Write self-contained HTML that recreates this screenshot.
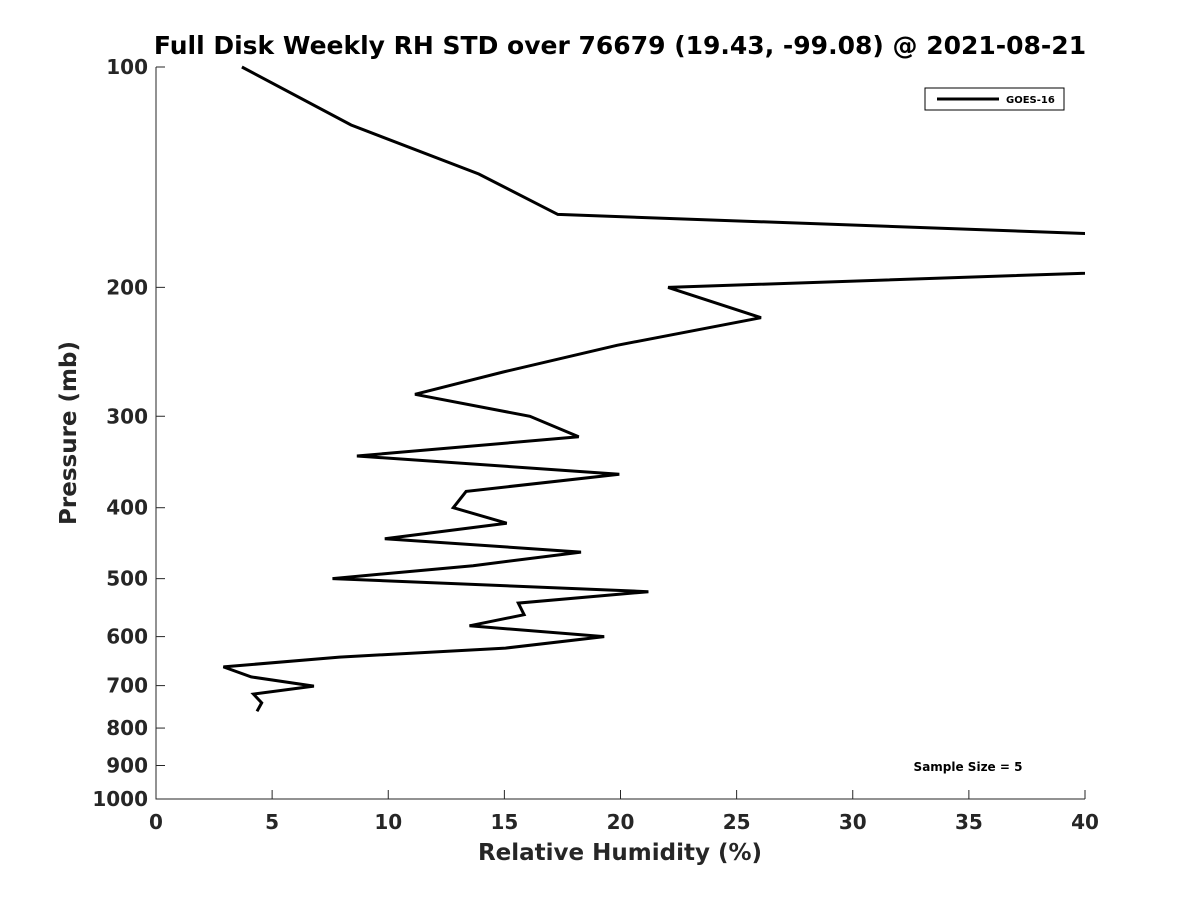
<!DOCTYPE html>
<html><head><meta charset="utf-8"><style>
body{margin:0;background:#fff;}
svg{display:block;font-family:"DejaVu Sans","Liberation Sans",sans-serif;}
</style></head><body>
<svg id="chart" width="1200" height="900" viewBox="0 0 1200 900">
<defs><clipPath id="plotclip"><rect x="156" y="60" width="929" height="745"/></clipPath></defs>
<rect width="1200" height="900" fill="#fff"/>
<text x="620" y="54" text-anchor="middle" font-size="25" font-weight="bold">Full Disk Weekly RH STD over 76679 (19.43, -99.08) @ 2021-08-21</text>
<g id="axes"></g>
<g id="series" clip-path="url(#plotclip)"></g>
<g>
<rect x="925" y="88" width="139" height="22" fill="#fff" stroke="#000" stroke-width="1"/>
<line x1="937" y1="99" x2="999" y2="99" stroke="#000" stroke-width="3"/>
<text x="1006" y="103" font-size="10" font-weight="bold">GOES-16</text>
</g>
<text x="968" y="771" text-anchor="middle" font-size="12" font-weight="bold">Sample Size = 5</text>
<text x="620" y="860" text-anchor="middle" font-size="23" font-weight="bold" fill="#262626">Relative Humidity (%)</text>
<text transform="translate(76,433) rotate(-90)" text-anchor="middle" font-size="23" font-weight="bold" fill="#262626">Pressure (mb)</text>
</svg>
<script>
const xTicks=[0,5,10,15,20,25,30,35,40];
const yTicks=[100,200,300,400,500,600,700,800,900,1000];
const rhValues=[3.7,8.4,13.9,17.3,60,60,22.05,26.05,19.85,14.95,11.15,16.1,18.2,8.65,19.95,13.35,12.8,15.1,9.85,18.3,13.65,7.6,21.2,15.6,15.85,13.5,19.3,15.05,7.9,2.9,4.1,6.8,4.2,4.55,4.35];
const pressures=[100,120,140,159,178,182,200,220,240,261,280,300,320,340,360,380,400,420,441,460,480,500,521,540,560,580,600,622,640,660,681,701,719,739,759];
const NS='http://www.w3.org/2000/svg';
const X0=156,X1=1085,Y0=67,Y1=799;
const xs=v=>X0+(v/40)*(X1-X0);
const ys=p=>Y0+Math.log10(p/100)*(Y1-Y0);
const axes=document.getElementById('axes');
function mk(t,a,parent){const e=document.createElementNS(NS,t);for(const k in a)e.setAttribute(k,a[k]);parent.appendChild(e);return e;}
const ax=mk('path',{d:`M${X0},${Y0}V${Y1}H${X1}`,fill:'none',stroke:'#262626','stroke-width':1},axes);


xTicks.forEach(v=>{
 const x=xs(v);
 mk('line',{x1:x,y1:Y1,x2:x,y2:Y1-9,stroke:'#262626'},axes);
 const t=mk('text',{x:x,y:Y1+30,'text-anchor':'middle','font-size':20,'font-weight':'bold',fill:'#262626'},axes);
 t.textContent=v;
 
 
});
yTicks.forEach(p=>{
 const y=ys(p);
 mk('line',{x1:X0,y1:y,x2:X0+9,y2:y,stroke:'#262626'},axes);
 const t=mk('text',{x:X0-8,y:y+7,'text-anchor':'end','font-size':20,'font-weight':'bold',fill:'#262626'},axes);
 t.textContent=p;
 
 
});
const s=document.getElementById('series');
const pts=rhValues.map((v,i)=>`${xs(v).toFixed(1)},${ys(pressures[i]).toFixed(1)}`).join(' ');
const pl=mk('polyline',{points:pts,fill:'none',stroke:'#000','stroke-width':3,'stroke-linejoin':'miter'},s);


</script>
</body></html>
